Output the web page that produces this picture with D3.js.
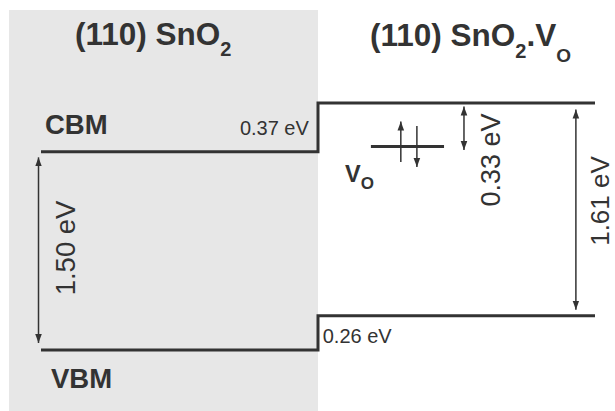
<!DOCTYPE html>
<html>
<head>
<meta charset="utf-8">
<script src="https://cdn.jsdelivr.net/npm/d3@7"></script>
<style>
  html, body { margin: 0; padding: 0; background: #fff; }
  svg { display: block; }
  text { font-family: "Liberation Sans", Arial, Helvetica, sans-serif; fill: #333; }
</style>
</head>
<body>
<svg id="chart" width="615" height="411"></svg>
<script>
// ---- data (energies in eV, relative to the VBM of pristine (110) SnO2) ----
const panels      = ["pristine", "vacancy"];
const cbmEnergy   = [1.50, 1.87];   // conduction-band minimum per panel
const vbmEnergy   = [0.00, 0.26];   // valence-band minimum per panel
const gapLabels   = ["1.50 eV", "1.61 eV"];
const cbmOffsetLabel = "0.37 eV";
const vbmOffsetLabel = "0.26 eV";
const defectLevel = 1.54;           // V_O level in vacancy panel
const defectDepthLabel = "0.33 eV";

const W = 615, H = 411;
const svg = d3.select("#chart");

// scales: x = panel coordinate (panel i spans [i, i+1]), y = energy (eV)
const x = d3.scaleLinear().domain([0, 2]).range([41, 595]);
const y = d3.scaleLinear().domain([0, 1.87]).range([350, 103]);

const ink = "#333";

// shaded panel for pristine SnO2
svg.append("rect")
  .attr("x", x(-0.1155)).attr("y", 10)
  .attr("width", x(1) - x(-0.1155)).attr("height", H - 10)
  .attr("fill", "#e7e7e7");

// arrow marker
const defs = svg.append("defs");
defs.append("marker")
  .attr("id", "ah").attr("viewBox", "0 -4 10 8")
  .attr("markerUnits", "userSpaceOnUse")
  .attr("markerWidth", 10).attr("markerHeight", 8)
  .attr("refX", 9).attr("refY", 0).attr("orient", "auto-start-reverse")
  .append("path").attr("d", "M0,-3.3L9,0L0,3.3Z").attr("fill", ink);

// band edges as step lines
const bandLine = d3.line().x(d => x(d[0])).y(d => y(d[1]));
function stepPts(vals) {
  return [[0, vals[0]], [1, vals[0]], [1, vals[1]], [2, vals[1]]];
}
[cbmEnergy, vbmEnergy].forEach(vals => {
  svg.append("path")
    .attr("d", bandLine(stepPts(vals)))
    .attr("fill", "none").attr("stroke", ink)
    .attr("stroke-width", 3).attr("stroke-linejoin", "miter");
});

// defect level
svg.append("line")
  .attr("x1", x(1.191)).attr("x2", x(1.455))
  .attr("y1", y(defectLevel)).attr("y2", y(defectLevel))
  .attr("stroke", ink).attr("stroke-width", 3);

// spin arrows
function arrow(xv, y1, y2, both) {
  const l = svg.append("line")
    .attr("x1", x(xv)).attr("x2", x(xv))
    .attr("y1", y1).attr("y2", y2)
    .attr("stroke", ink).attr("stroke-width", 1.5)
    .attr("marker-end", "url(#ah)");
  if (both) l.attr("marker-start", "url(#ah)");
}
arrow(1.299, y(defectLevel) + 15.5, y(defectLevel) - 25, false);  // spin up
arrow(1.357, y(defectLevel) - 20.5, y(defectLevel) + 20.5, false); // spin down

// gap / depth arrows
arrow(-0.009, y(cbmEnergy[0]) + 5.5, y(vbmEnergy[0]) - 7, true);
arrow(1.931, y(cbmEnergy[1]) + 6.5, y(vbmEnergy[1]) - 6, true);
arrow(1.527, y(cbmEnergy[1]) + 3.5, y(defectLevel) + 3.5, true);

// rotated value labels
function vlabel(txt, bx, cy, size) {
  svg.append("text")
    .attr("transform", `translate(${bx},${cy}) rotate(-90)`)
    .attr("text-anchor", "middle")
    .attr("font-size", size)
    .text(txt);
}
vlabel(gapLabels[0], x(0.1245), (y(cbmEnergy[0]) + y(vbmEnergy[0])) / 2 - 3, 27.5);
vlabel(gapLabels[1], x(2.05), 201, 26);
vlabel(defectDepthLabel, x(1.657), 160, 27);

// offset labels
svg.append("text").attr("x", x(0.967)).attr("y", y(cbmEnergy[0]) - 16.5)
  .attr("text-anchor", "end").attr("font-size", 20).text(cbmOffsetLabel);
svg.append("text").attr("x", x(1.017)).attr("y", y(vbmEnergy[1]) + 27)
  .attr("text-anchor", "start").attr("font-size", 20).text(vbmOffsetLabel);

// band edge names
svg.append("text").attr("x", 45).attr("y", 134)
  .attr("font-size", 27.5).attr("font-weight", "bold").text("CBM");
svg.append("text").attr("x", 51).attr("y", 388)
  .attr("font-size", 27.5).attr("font-weight", "bold").text("VBM");

// V_O label
const vo = svg.append("text").attr("x", 345).attr("y", 182)
  .attr("font-size", 23.5).attr("font-weight", "bold");
vo.append("tspan").text("V");
vo.append("tspan").attr("font-size", 17).attr("dy", 6.5).text("O");

// titles
const t1 = svg.append("text").attr("x", 75).attr("y", 45)
  .attr("font-size", 31.5).attr("font-weight", "bold");
t1.append("tspan").text("(110) SnO");
t1.append("tspan").attr("font-size", 20).attr("dy", 11).text("2");

const t2 = svg.append("text").attr("x", 370).attr("y", 46)
  .attr("font-size", 31.5).attr("font-weight", "bold");
t2.append("tspan").text("(110) SnO");
t2.append("tspan").attr("font-size", 20).attr("dy", 12).text("2");
t2.append("tspan").attr("dy", -12).text(".V");
t2.append("tspan").attr("font-size", 19).attr("dy", 15.5).text("O");
</script>
</body>
</html>
